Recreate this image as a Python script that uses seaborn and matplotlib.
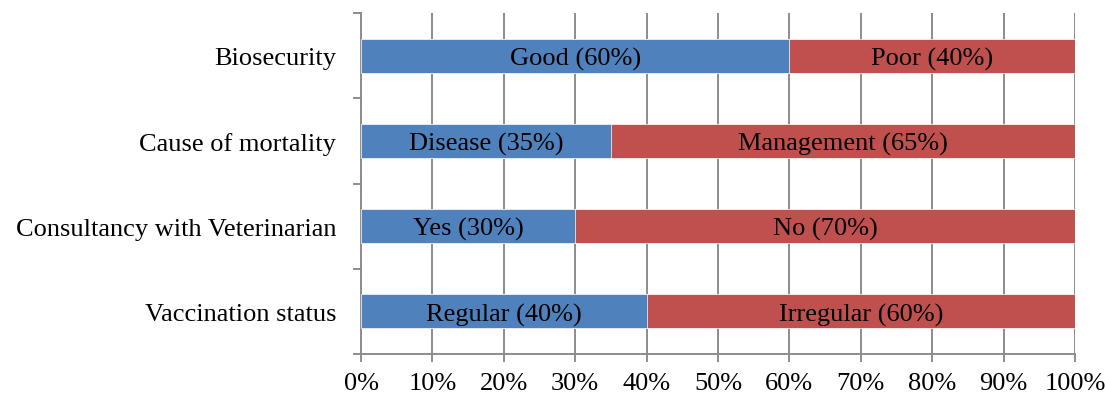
import numpy as np
import matplotlib
matplotlib.use('Agg')
import matplotlib.pyplot as plt
import pandas as pd
import seaborn as sns

categories = ['Biosecurity', 'Cause of mortality', 'Consultancy with Veterinarian', 'Vaccination status']
first_labels = ['Good', 'Disease', 'Yes', 'Regular']
first_values = [60, 35, 30, 40]
second_labels = ['Poor', 'Management', 'No', 'Irregular']
second_values = [40, 65, 70, 60]
x_ticks = [0, 10, 20, 30, 40, 50, 60, 70, 80, 90, 100]

blue = '#4F81BD'
red = '#C0504D'
grey = '#8C8C8C'
fs = 19

sns.set_style('white')
plt.rcParams['font.family'] = ['Liberation Serif', 'DejaVu Serif']

data = pd.DataFrame({
    'category': categories,
    'first': first_values,
    'total': np.array(first_values) + np.array(second_values),
})

fig, ax = plt.subplots(figsize=(11.05, 4.06), dpi=100)
fig.subplots_adjust(left=0.3267, right=0.9729, top=0.9655, bottom=0.1256)

# red part goes underneath, blue drawn over it from 0
sns.barplot(data=data, x='total', y='category', color=red, width=0.4,
            saturation=1, edgecolor='white', linewidth=0.5, ax=ax, zorder=2)
sns.barplot(data=data, x='first', y='category', color=blue, width=0.4,
            saturation=1, edgecolor='white', linewidth=0.5, ax=ax, zorder=3)

for i, cat in enumerate(categories):
    f, s = first_values[i], second_values[i]
    ax.text(f / 2, i, f'{first_labels[i]} ({f}%)', ha='center', va='center_baseline',
            fontsize=fs, color='black', zorder=4)
    ax.text(f + s / 2, i, f'{second_labels[i]} ({s}%)', ha='center', va='center_baseline',
            fontsize=fs, color='black', zorder=4)

ax.set_xlim(0, 100)
ax.set_ylim(len(categories) - 0.5, -0.5)
ax.set_xticks(x_ticks)
ax.set_xticklabels([f'{t}%' for t in x_ticks])
ax.xaxis.grid(True, color=grey, linewidth=1.4, zorder=0)
ax.set_axisbelow(True)

ax.set_yticks(np.arange(-0.5, len(categories), 1.0), minor=True)
ax.tick_params(axis='y', which='major', left=True, length=0, pad=18,
               labelsize=fs, labelcolor='black')
ax.tick_params(axis='y', which='minor', left=True, length=6, width=1.4, color=grey)
ax.tick_params(axis='x', bottom=True, length=6, width=1.4, color=grey, pad=7,
               labelsize=fs, labelcolor='black')

ax.set_xlabel('')
ax.set_ylabel('')
for side in ['top', 'right']:
    ax.spines[side].set_visible(False)
for side in ['left', 'bottom']:
    ax.spines[side].set_color(grey)
    ax.spines[side].set_linewidth(1.4)

plt.savefig('out.png', dpi=100)
